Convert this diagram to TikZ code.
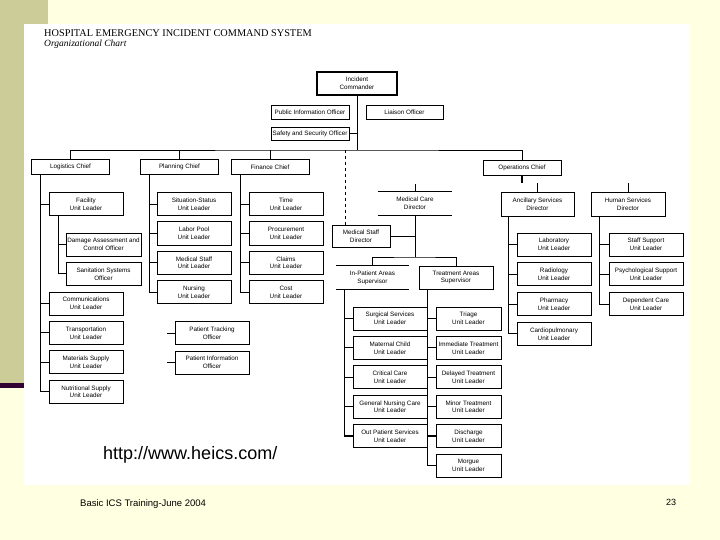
\documentclass[tikz,border=0pt]{standalone}
\usepackage{fontspec}
\setmainfont{Liberation Sans}
\newfontfamily\titlefont{Liberation Serif}
\usepackage{tikz}
\usetikzlibrary{positioning}
\definecolor{slideyellow}{HTML}{FFFFE1}
\definecolor{slidekhaki}{HTML}{CCCC99}
\definecolor{slideplum}{HTML}{330033}

\begin{document}
\begin{tikzpicture}[x=1pt, y=-1pt, node distance=5.6pt,
  every node/.style={align=center, font=\fontsize{6.3}{7.8}\selectfont, inner sep=1pt},
  unit/.style={draw, fill=white, line width=0.8pt, minimum width=74pt, minimum height=23pt},
  chief/.style={unit, minimum width=78pt, minimum height=15pt},
  open/.style={minimum width=74pt, minimum height=23pt},
  link/.style={line width=0.9pt},
  slidetext/.style={anchor=base west, inner sep=0pt}
]
% slide background
\useasboundingbox (0,0) rectangle (720,540);
\fill[slideyellow] (0,0) rectangle (720,540);
\fill[slidekhaki] (0,0) rectangle (48,383);
\fill[slideplum] (0,383) rectangle (24,388);
\fill[white] (24,24) rectangle (690,485);

\node[slidetext, font=\titlefont\fontsize{10.3}{12}\selectfont] (title) at (44,37) {HOSPITAL EMERGENCY INCIDENT COMMAND SYSTEM};
\node[slidetext, font=\titlefont\itshape\fontsize{9.5}{11}\selectfont] (subtitle) at (44,46.5) {Organizational Chart};

% command staff
\node[unit, minimum width=80pt, line width=2pt] (ic) at (357,83.5) {Incident\\Commander};
\node[unit, minimum width=78pt, minimum height=14pt] (pio) at (310,112) {Public Information Officer};
\node[unit, minimum width=77pt, minimum height=14pt] (lia) at (404.5,112) {Liaison Officer};
\node[unit, minimum width=78pt, minimum height=13pt] (saf) at (310,133.5) {Safety and Security Officer};

\node[chief] (log) at (70.5,167) {Logistics Chief};
\node[chief] (plan) at (179.5,167) {Planning Chief};
\node[chief] (fin) at (270,167) {Finance Chief};
\node[chief] (ops) at (522,167.5) {Operations Chief};

% logistics
\node[unit] (fac) at (86,204) {Facility\\Unit Leader};
\node[unit, minimum width=75pt] (dmg) at (103.5,244.5) {Damage Assessment and\\Control Officer};
\node[unit, minimum width=75pt, below=of dmg] (san) {Sanitation Systems\\Officer};
\node[unit] (com) at (86,303.5) {Communications\\Unit Leader};
\node[unit, below=of com] (tra) {Transportation\\Unit Leader};
\node[unit, below=of tra] (mts) {Materials Supply\\Unit Leader};
\node[unit, below=of mts] (nut) {Nutritional Supply\\Unit Leader};

% planning
\node[unit] (sit) at (194,204) {Situation-Status\\Unit Leader};
\node[unit, below=of sit] (lab) {Labor Pool\\Unit Leader};
\node[unit, below=of lab] (mst) {Medical Staff\\Unit Leader};
\node[unit, below=of mst] (nur) {Nursing\\Unit Leader};
\node[unit] (ptr) at (212,333) {Patient Tracking\\Officer};
\node[unit, below=of ptr] (pin) {Patient Information\\Officer};

% finance
\node[unit] (tim) at (286,204) {Time\\Unit Leader};
\node[unit, below=of tim] (prc) {Procurement\\Unit Leader};
\node[unit, below=of prc] (clm) {Claims\\Unit Leader};
\node[unit, below=of clm] (cst) {Cost\\Unit Leader};

% operations
\node[open] (mcd) at (415,203.5) {Medical Care\\Director};
\node[unit, minimum width=58pt, minimum height=22pt] (msd) at (361,236) {Medical Staff\\Director};
\node[open, minimum width=73pt] (ipa) at (372.5,277.5) {In-Patient Areas\\Supervisor};
\node[unit] (tas) at (456,277.5) {Treatment Areas\\Supervisor};
\draw[line width=0.8pt] (mcd.north west) -- (mcd.north east) (mcd.south west) -- (mcd.south east);
\draw[line width=0.8pt] (ipa.north west) -- (ipa.north east) (ipa.south west) -- (ipa.south east);

\node[unit] (srg) at (390,318.5) {Surgical Services\\Unit Leader};
\node[unit, below=of srg] (mch) {Maternal Child\\Unit Leader};
\node[unit, below=of mch] (crc) {Critical Care\\Unit Leader};
\node[unit, below=of crc] (gnc) {General Nursing Care\\Unit Leader};
\node[unit, below=of gnc] (opt) {Out Patient Services\\Unit Leader};

\node[unit, minimum width=65pt] (tri) at (468.5,318.5) {Triage\\Unit Leader};
\node[unit, minimum width=65pt, below=of tri] (imm) {Immediate Treatment\\Unit Leader};
\node[unit, minimum width=65pt, below=of imm] (dly) {Delayed Treatment\\Unit Leader};
\node[unit, minimum width=65pt, below=of dly] (mnr) {Minor Treatment\\Unit Leader};
\node[unit, minimum width=65pt, below=of mnr] (dis) {Discharge\\Unit Leader};
\node[unit, minimum width=65pt, below=of dis] (mor) {Morgue\\Unit Leader};

\node[unit, minimum width=73pt, minimum height=24pt] (anc) at (537.5,204) {Ancillary Services\\Director};
\node[unit, minimum height=24pt] (hum) at (628,204) {Human Services\\Director};
\node[unit] (lbr) at (554,244.5) {Laboratory\\Unit Leader};
\node[unit, below=6pt of lbr] (rad) {Radiology\\Unit Leader};
\node[unit, below=6pt of rad] (phm) {Pharmacy\\Unit Leader};
\node[unit, below=6pt of phm] (cpm) {Cardiopulmonary\\Unit Leader};
\node[unit] (stf) at (646,244.5) {Staff Support\\Unit Leader};
\node[unit, below=6pt of stf] (psy) {Psychological Support\\Unit Leader};
\node[unit, below=6pt of psy] (dep) {Dependent Care\\Unit Leader};

% connectors
\coordinate (bus) at (357,150);
\draw[link] (ic.south) -- (bus);
\draw[link] (log.north) |- (bus) -| (ops.north);
\draw[link] (plan.north) -- (plan.north |- bus); \draw[link] (fin.north) -- (fin.north |- bus);
\draw[link] (saf.east) -- (saf.east -| ic.south);
\coordinate (dash) at (345,150);
\draw[link, dashed] (dash) -- (dash |- msd.north);

\coordinate (lgx) at ([xshift=9pt]log.south west);
\draw[link] (lgx) |- (nut.west);
\draw[link] (fac.west) -- (fac.west -| lgx); \draw[link, line width=1.8pt] (com.west) -- (com.west -| lgx);
\draw[link] (tra.west) -- (tra.west -| lgx); \draw[link] (mts.west) -- (mts.west -| lgx);
\coordinate (fcx) at ([xshift=10pt]fac.south west);
\draw[link] (fcx) |- (san.west); \draw[link] (dmg.west) -- (dmg.west -| fcx);

\coordinate (plx) at ([xshift=9pt]plan.south west);
\draw[link] (plx) |- (nur.west);
\draw[link] (sit.west) -- (sit.west -| plx); \draw[link] (lab.west) -- (lab.west -| plx); \draw[link] (mst.west) -- (mst.west -| plx);
\draw[link] (ptr.west) -- ++(-8,0); \draw[link] (pin.west) -- ++(-8,0);

\coordinate (fnx) at ([xshift=10pt]fin.south west);
\draw[link] (fnx) |- (cst.west);
\draw[link] (tim.west) -- (tim.west -| fnx); \draw[link] (prc.west) -- (prc.west -| fnx); \draw[link] (clm.west) -- (clm.west -| fnx);

\draw[link, line width=2pt] (ops.south) -- ++(0,8);
\draw[link] (mcd.north) -- ++(0,-8); \draw[link] (anc.north) -- ++(0,-9); \draw[link] (hum.north) -- ++(0,-9);
\coordinate (mcbus) at (415,257);
\draw[link] (mcd.south) -- (mcbus);
\draw[link] (ipa.north) |- (mcbus) -| (tas.north);
\draw[link] (msd.east) -- (msd.east -| mcd.south);

\coordinate (ipx) at ([xshift=9pt]ipa.south west);
\draw[link] (ipx) |- (opt.west);
\draw[link] (srg.west) -- (srg.west -| ipx); \draw[link] (mch.west) -- (mch.west -| ipx);
\draw[link] (crc.west) -- (crc.west -| ipx); \draw[link] (gnc.west) -- (gnc.west -| ipx);
\draw[link, line width=1.8pt] (opt.west) -- (opt.west -| ipx);

\coordinate (tax) at ([xshift=9pt]tas.south west);
\draw[link] (tax) |- (mor.west);
\draw[link] (tri.west) -- (tri.west -| tax); \draw[link] (imm.west) -- (imm.west -| tax); \draw[link] (dly.west) -- (dly.west -| tax);
\draw[link] (mnr.west) -- (mnr.west -| tax); \draw[link, line width=1.8pt] (dis.west) -- (dis.west -| tax);

\coordinate (anx) at ([xshift=8pt]anc.south west);
\draw[link] (anx) |- (cpm.west);
\draw[link] (lbr.west) -- (lbr.west -| anx); \draw[link] (rad.west) -- (rad.west -| anx); \draw[link] (phm.west) -- (phm.west -| anx);
\coordinate (hux) at ([xshift=9pt]hum.south west);
\draw[link] (hux) |- (dep.west);
\draw[link] (stf.west) -- (stf.west -| hux); \draw[link] (psy.west) -- (psy.west -| hux);

% footer texts
\node[slidetext, font=\fontsize{18}{20}\selectfont] (url) at (103,459) {http://www.heics.com/};
\node[slidetext, font=\fontsize{9.5}{11}\selectfont] (foot) at (80,506) {Basic ICS Training-June 2004};
\node[slidetext, font=\fontsize{9}{11}\selectfont] (page) at (666,505) {23};
\end{tikzpicture}
\end{document}
